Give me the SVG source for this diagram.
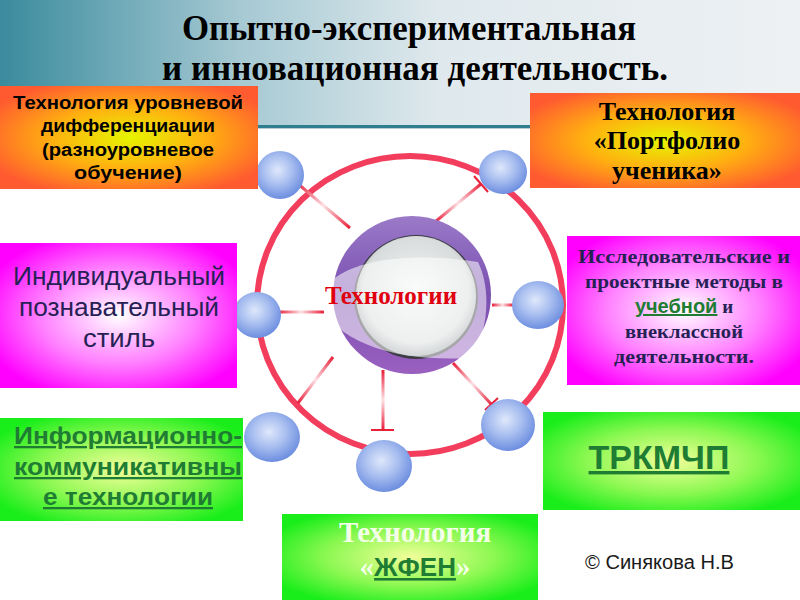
<svg xmlns="http://www.w3.org/2000/svg" width="800" height="600" viewBox="0 0 800 600">
<defs>
<linearGradient id="hdr" x1="0" y1="0" x2="1" y2="0">
<stop offset="0" stop-color="#3a8b9d"/>
<stop offset="0.3" stop-color="#a6c9d3"/>
<stop offset="0.55" stop-color="#dfe9ed"/>
<stop offset="1" stop-color="#eef1f4"/>
</linearGradient>
<radialGradient id="orange" cx="0.5" cy="0.5" r="0.6">
<stop offset="0" stop-color="#e6f500"/>
<stop offset="0.5" stop-color="#ffb010"/>
<stop offset="1" stop-color="#ff5a30"/>
</radialGradient>
<radialGradient id="magenta" cx="0.5" cy="0.5" r="0.6">
<stop offset="0" stop-color="#ffffff"/>
<stop offset="0.55" stop-color="#ff80ff"/>
<stop offset="1" stop-color="#ff00ff"/>
</radialGradient>
<radialGradient id="green" cx="0.5" cy="0.5" r="0.6">
<stop offset="0" stop-color="#f2ff9a"/>
<stop offset="0.55" stop-color="#8cf852"/>
<stop offset="1" stop-color="#1aee1a"/>
</radialGradient>
<radialGradient id="ball" cx="0.45" cy="0.4" r="0.6">
<stop offset="0" stop-color="#dfe8fb"/>
<stop offset="0.5" stop-color="#a9bff0"/>
<stop offset="1" stop-color="#6d8ee0"/>
</radialGradient>
<radialGradient id="core" cx="0.5" cy="0.45" r="0.55">
<stop offset="0" stop-color="#f4f5f5"/>
<stop offset="0.8" stop-color="#d8dcdc"/>
<stop offset="1" stop-color="#9ea4a6"/>
</radialGradient>
<linearGradient id="purple" x1="0" y1="0" x2="0" y2="1">
<stop offset="0" stop-color="#9a7ac8"/>
<stop offset="0.5" stop-color="#7a4fb0"/>
<stop offset="1" stop-color="#9a60c0"/>
</linearGradient>
<linearGradient id="ln" x1="0" y1="0" x2="1" y2="0">
<stop offset="0" stop-color="#e8203a"/>
<stop offset="0.5" stop-color="#fde0e4"/>
<stop offset="1" stop-color="#e8203a"/>
</linearGradient>
<linearGradient id="l1" href="#ln" gradientUnits="userSpaceOnUse" x1="350" y1="228" x2="297" y2="183"/>
<linearGradient id="l2" href="#ln" gradientUnits="userSpaceOnUse" x1="435" y1="222" x2="481" y2="184"/>
<linearGradient id="l3" href="#ln" gradientUnits="userSpaceOnUse" x1="492" y1="305" x2="513" y2="305"/>
<linearGradient id="l4" href="#ln" gradientUnits="userSpaceOnUse" x1="278" y1="312" x2="324" y2="312"/>
<linearGradient id="l5" href="#ln" gradientUnits="userSpaceOnUse" x1="333" y1="357" x2="298" y2="403"/>
<linearGradient id="l6" href="#ln" gradientUnits="userSpaceOnUse" x1="383" y1="370" x2="383" y2="430"/>
<linearGradient id="l7" href="#ln" gradientUnits="userSpaceOnUse" x1="453" y1="363" x2="492" y2="405"/>
<style>
.sans{font-family:"Liberation Sans",Arial,sans-serif}
.serif{font-family:"Liberation Serif","Times New Roman",serif}
.b{font-weight:bold}
.c{text-anchor:middle}
.navy{fill:#262154}
.dg{fill:#1f7d33}
.u{text-decoration:underline}
.ball{fill:url(#ball)}
.conn{stroke-width:3;fill:none}
.tick{stroke:#e8203a;stroke-width:2}
</style>
</defs>

<rect x="0" y="0" width="800" height="600" fill="#ffffff"/>
<rect x="0" y="0" width="800" height="125" fill="url(#hdr)"/>
<rect x="0" y="125" width="800" height="3" fill="#2f7e8f"/>
<rect x="0" y="128" width="800" height="1" fill="#b9cbd2"/>

<g id="title" class="serif b c" fill="#000000">
<text x="409" y="40" font-size="35" textLength="454" lengthAdjust="spacingAndGlyphs">Опытно-экспериментальная</text>
<text x="415" y="80" font-size="35" textLength="506" lengthAdjust="spacingAndGlyphs">и инновационная деятельность.</text>
</g>

<g id="ring">
<ellipse cx="410" cy="305" rx="153" ry="149" fill="none" stroke="#f23e5c" stroke-width="6"/>
</g>

<g id="connectors">
<line x1="350" y1="228" x2="297" y2="183" class="conn" stroke="url(#l1)"/>
<line x1="435" y1="222" x2="481" y2="184" class="conn" stroke="url(#l2)"/>
<line x1="474" y1="176" x2="488" y2="192" class="tick"/>
<line x1="492" y1="305" x2="513" y2="305" class="conn" stroke="url(#l3)"/>
<line x1="278" y1="312" x2="324" y2="312" class="conn" stroke="url(#l4)"/>
<line x1="333" y1="357" x2="298" y2="403" class="conn" stroke="url(#l5)"/>
<line x1="383" y1="370" x2="383" y2="430" class="conn" stroke="url(#l6)"/>
<line x1="371" y1="430" x2="394" y2="430" class="tick"/>
<line x1="453" y1="363" x2="492" y2="405" class="conn" stroke="url(#l7)"/>
<line x1="485" y1="410" x2="498" y2="398" class="tick"/>
</g>

<g id="center">
<circle cx="412" cy="295" r="79" fill="url(#purple)"/>
<circle cx="416" cy="297" r="62" fill="#3c3c44"/>
<circle cx="416" cy="296" r="60" fill="url(#core)"/>
<path d="M318 300 C330 262 400 250 478 262 C492 290 488 335 470 358 C400 362 336 345 318 300 Z" fill="#ffffff" opacity="0.55"/>
<text x="391" y="304" class="serif b c" font-size="25" fill="#e00010">Технологии</text>
</g>

<g id="ball-tl"><ellipse cx="280" cy="175" rx="24" ry="24" class="ball"/></g>
<g id="ball-tr"><ellipse cx="503" cy="172" rx="24" ry="22" class="ball"/></g>
<g id="ball-r"><ellipse cx="538" cy="305" rx="26" ry="24" class="ball"/></g>
<g id="ball-l"><ellipse cx="257" cy="315" rx="24" ry="23" class="ball"/></g>
<g id="ball-bl"><ellipse cx="272" cy="437" rx="28" ry="25" class="ball"/></g>
<g id="ball-b"><ellipse cx="384" cy="466" rx="28" ry="26" class="ball"/></g>
<g id="ball-br"><ellipse cx="508" cy="425" rx="27" ry="26" class="ball"/></g>

<g id="box-level">
<rect x="0" y="86" width="258" height="103" fill="url(#orange)"/>
<g class="sans b c" font-size="18" fill="#000000">
<text x="128" y="109" textLength="230" lengthAdjust="spacingAndGlyphs">Технология уровневой</text>
<text x="128" y="132" textLength="174" lengthAdjust="spacingAndGlyphs">дифференциации</text>
<text x="128" y="156" textLength="172" lengthAdjust="spacingAndGlyphs">(разноуровневое</text>
<text x="128" y="179" textLength="108" lengthAdjust="spacingAndGlyphs">обучение)</text>
</g>
</g>

<g id="box-portfolio">
<rect x="530" y="93" width="270" height="95" fill="url(#orange)"/>
<g class="serif b c" font-size="26" fill="#000000">
<text x="667" y="120">Технология</text>
<text x="667" y="149">«Портфолио</text>
<text x="667" y="179">ученика»</text>
</g>
</g>

<g id="box-style">
<rect x="0" y="243" width="237" height="145" fill="url(#magenta)"/>
<g class="sans c navy" font-size="25">
<text x="119" y="285" textLength="212" lengthAdjust="spacingAndGlyphs">Индивидуальный</text>
<text x="119" y="316" textLength="200" lengthAdjust="spacingAndGlyphs">познавательный</text>
<text x="119" y="347" textLength="72" lengthAdjust="spacingAndGlyphs">стиль</text>
</g>
</g>

<g id="box-research">
<rect x="567" y="236" width="233" height="149" fill="url(#magenta)"/>
<g class="serif b c navy" font-size="19">
<text x="684" y="263" textLength="212" lengthAdjust="spacingAndGlyphs">Исследовательские и</text>
<text x="684" y="288" textLength="198" lengthAdjust="spacingAndGlyphs">проектные методы в</text>
<text x="684" y="313"><tspan class="sans dg u" font-size="20">учебной</tspan> и</text>
<text x="684" y="338" textLength="118" lengthAdjust="spacingAndGlyphs">внеклассной</text>
<text x="684" y="363" textLength="140" lengthAdjust="spacingAndGlyphs">деятельности.</text>
</g>
</g>

<g id="box-ict">
<rect x="0" y="418" width="243" height="103" fill="url(#green)"/>
<g class="sans b c dg u" font-size="23">
<text x="128" y="444" textLength="228" lengthAdjust="spacingAndGlyphs">Информационно-</text>
<text x="128" y="475" textLength="228" lengthAdjust="spacingAndGlyphs">коммуникативны</text>
<text x="128" y="505" textLength="170" lengthAdjust="spacingAndGlyphs">е технологии</text>
</g>
</g>

<g id="box-trkm">
<rect x="543" y="412" width="257" height="98" fill="url(#green)"/>
<text x="659" y="469" class="sans b c dg u" font-size="34">ТРКМЧП</text>
</g>

<g id="box-jfen">
<rect x="282" y="514" width="256" height="86" fill="url(#green)"/>
<text x="415" y="542" class="serif b c" font-size="29" fill="#f4ffe8">Технология</text>
<text x="415" y="576" class="serif b c" font-size="29" fill="#f4ffe8">«<tspan class="sans dg u" font-size="26">ЖФЕН</tspan>»</text>
</g>

<text x="585" y="569" class="sans" font-size="20" fill="#1a1a1a" textLength="149" lengthAdjust="spacingAndGlyphs">© Синякова Н.В</text>
</svg>
